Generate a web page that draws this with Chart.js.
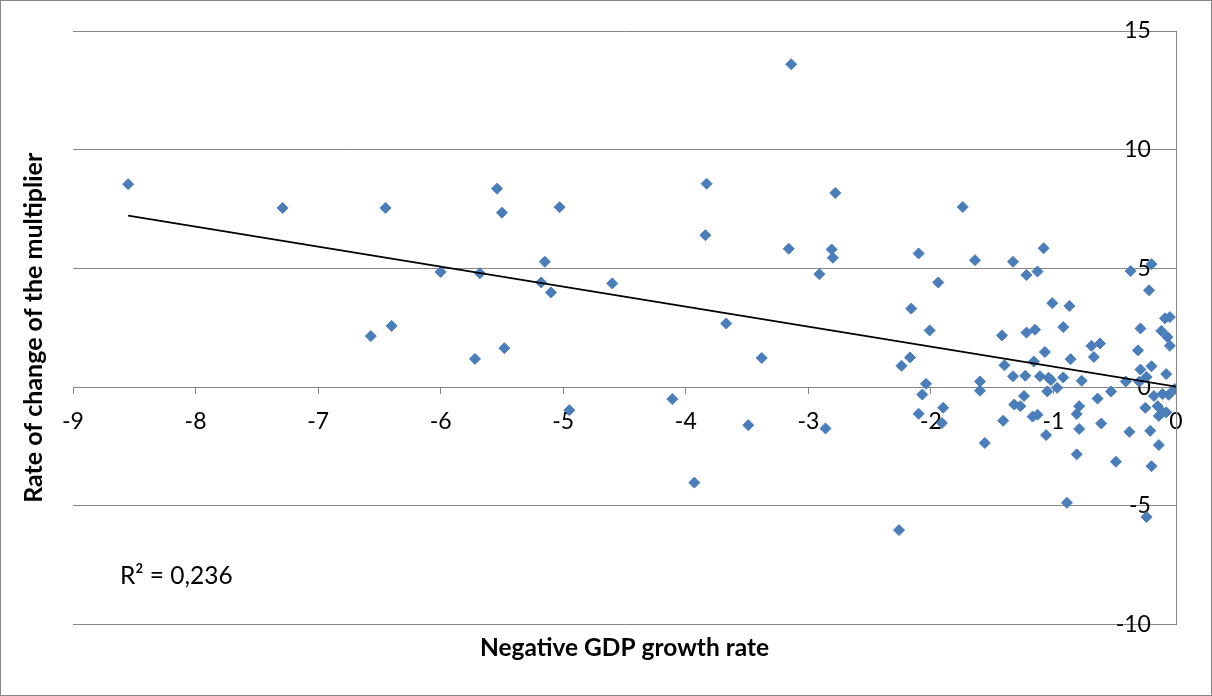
<!DOCTYPE html>
<html>
<head>
<meta charset="utf-8">
<script src="https://cdn.jsdelivr.net/npm/chart.js@4/dist/chart.umd.min.js"></script>
<style>
  html, body { margin: 0; padding: 0; background: #fff; }
  canvas { display: block; }
</style>
</head>
<body>
<canvas id="scatterChart" width="1212" height="696"></canvas>
<script>
// values
const growthRate = [
  -8.55, -7.29, -6.45, -6.57, -6.40, -6.00, -5.68, -5.54, -5.50, -5.72,
  -5.48, -5.15, -5.18, -5.10, -5.03, -4.95, -4.60, -4.11, -3.83, -3.84,
  -3.67, -3.93, -3.49, -3.38, -3.14, -3.16, -2.91, -2.86, -2.78, -2.81,
  -2.80, -1.74, -2.10, -1.64, -1.33, -1.08, -1.13, -1.22, -0.37, -0.20,
  -0.22, -1.94, -2.16, -1.01, -0.87, -2.01, -1.42, -1.22, -1.15, -0.92,
  -0.29, -0.09, -0.05, -0.12, -0.07, -0.05, -0.69, -0.62, -0.67, -0.31,
  -2.24, -2.17, -1.40, -1.16, -1.07, -0.86, -1.33, -1.23, -1.11, -1.04,
  -1.02, -0.92, -0.77, -0.29, -0.20, -0.08, -0.41, -0.24, -2.04, -1.60,
  -2.07, -1.60, -1.05, -0.97, -0.53, -0.64, -0.18, -0.11, -0.01, -0.25,
  -0.15, -0.11, -0.14, -0.08, -1.90, -2.10, -1.91, -1.24, -1.32, -1.27,
  -1.17, -1.13, -1.41, -0.79, -0.81, -0.61, -0.79, -1.06, -0.38, -0.21,
  -1.56, -0.14, -0.81, -0.49, -0.20, -0.89, -0.24, -2.26, -0.06, -0.30
];
const multiplierChange = [
  8.55, 7.55, 7.55, 2.15, 2.58, 4.85, 4.80, 8.36, 7.35, 1.19,
  1.64, 5.28, 4.41, 3.99, 7.58, -0.97, 4.37, -0.50, 8.57, 6.40,
  2.68, -4.02, -1.60, 1.23, 13.60, 5.83, 4.76, -1.74, 8.18, 5.80,
  5.45, 7.59, 5.63, 5.35, 5.28, 5.85, 4.87, 4.72, 4.89, 5.18,
  4.08, 4.41, 3.31, 3.54, 3.42, 2.39, 2.18, 2.30, 2.42, 2.53,
  2.47, 2.90, 2.95, 2.37, 2.11, 1.74, 1.74, 1.84, 1.27, 1.55,
  0.90, 1.25, 0.92, 1.08, 1.48, 1.18, 0.46, 0.48, 0.46, 0.40,
  0.30, 0.41, 0.27, 0.74, 0.88, 0.55, 0.24, 0.43, 0.14, 0.24,
  -0.31, -0.15, -0.18, -0.03, -0.18, -0.48, -0.37, -0.29, -0.08, -0.87,
  -0.80, -1.06, -1.21, -1.06, -0.87, -1.12, -1.51, -0.37, -0.73, -0.80,
  -1.24, -1.16, -1.41, -0.80, -1.13, -1.53, -1.76, -2.02, -1.88, -1.84,
  -2.35, -2.44, -2.83, -3.14, -3.33, -4.87, -5.47, -6.02, -0.32, 0.23
];
// linear trend line end points
const trendX = [-8.55, 0];
const trendY = [7.22, 0.02];
const rSquaredLabel = "R² = 0,236";

const FONT = "Lato, 'Open Sans', sans-serif";
const GRID = "#868686";

const points = growthRate.map((x, i) => ({ x: x, y: multiplierChange[i] }));
const trend = trendX.map((x, i) => ({ x: x, y: trendY[i] }));

// white background, outer frame and the R² note
const decor = {
  id: "decor",
  beforeDraw(chart) {
    const ctx = chart.ctx;
    ctx.save();
    ctx.fillStyle = "#fff";
    ctx.fillRect(0, 0, chart.width, chart.height);
    ctx.restore();
  },
  afterDraw(chart) {
    const ctx = chart.ctx;
    const area = chart.chartArea;
    ctx.save();
    ctx.strokeStyle = GRID;
    ctx.lineWidth = 1;
    ctx.strokeRect(0.5, 0.5, chart.width - 1, chart.height - 1);
    ctx.fillStyle = "#000";
    ctx.font = "24.5px " + FONT;
    ctx.textAlign = "left";
    ctx.textBaseline = "middle";
    ctx.fillText(rSquaredLabel, area.left + 47, 576);
    ctx.restore();
  }
};

new Chart(document.getElementById("scatterChart"), {
  type: "scatter",
  data: {
    datasets: [
      {
        label: "Countries",
        data: points,
        pointStyle: "rectRot",
        pointRadius: 5.5,
        backgroundColor: "#4a7ebb",
        borderColor: "#4a7ebb",
        borderWidth: 1,
        order: 2
      },
      {
        type: "line",
        label: "Trend",
        data: trend,
        borderColor: "#000",
        borderWidth: 1.75,
        pointRadius: 0,
        fill: false,
        order: 1
      }
    ]
  },
  options: {
    responsive: false,
    animation: false,
    devicePixelRatio: 1,
    layout: { padding: { left: 15, right: 36, top: 31, bottom: 33 } },
    plugins: {
      legend: { display: false },
      tooltip: { enabled: false },
      title: {
        display: true,
        position: "bottom",
        fullSize: false,
        text: "Negative GDP growth rate",
        color: "#000",
        font: { family: FONT, size: 24.5, weight: "bold" },
        padding: { top: 9, bottom: 0 }
      }
    },
    scales: {
      x: {
        type: "linear",
        min: -9,
        max: 0,
        position: { y: 0 },
        ticks: { stepSize: 1, color: "#000", font: { family: FONT, size: 23 }, padding: 15 },
        grid: { drawOnChartArea: false, drawTicks: true, tickLength: 6, color: GRID },
        border: { color: GRID, width: 1 }
      },
      // gridlines and the vertical axis line, crossing at x = 0
      y: {
        type: "linear",
        min: -10,
        max: 15,
        position: { x: 0 },
        ticks: { stepSize: 5, display: false },
        grid: { color: GRID, drawTicks: false },
        border: { color: GRID, width: 1 }
      },
      // tick labels sit a little to the left of the axis line
      yLabels: {
        axis: "y",
        type: "linear",
        min: -10,
        max: 15,
        position: { x: -0.205 },
        ticks: { stepSize: 5, color: "#000", font: { family: FONT, size: 23 } },
        grid: { display: false },
        border: { display: false }
      },
      yTitle: {
        axis: "y",
        type: "linear",
        position: "left",
        min: -10,
        max: 15,
        display: true,
        ticks: { display: false },
        grid: { display: false },
        border: { display: false },
        title: {
          display: true,
          text: "Rate of change of the multiplier",
          color: "#000",
          font: { family: FONT, size: 25, weight: "bold" },
          padding: { top: 4, bottom: 16 }
        }
      }
    }
  },
  plugins: [decor]
});
</script>
</body>
</html>
